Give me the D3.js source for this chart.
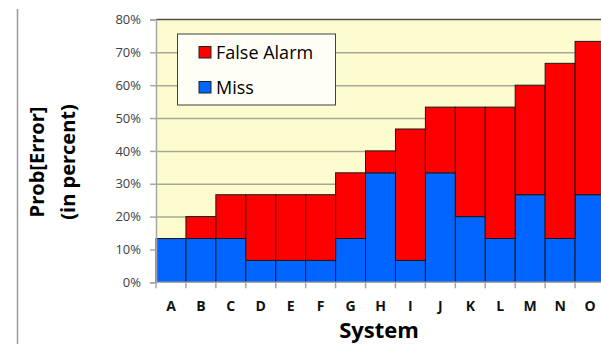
<!DOCTYPE html>
<html>
<head>
<meta charset="utf-8">
<script src="https://cdn.jsdelivr.net/npm/d3@7/dist/d3.min.js"></script>
<style>
  body { margin: 0; background: #fff; }
  svg { display: block; font-family: "Open Sans", "Noto Sans", sans-serif; }
</style>
</head>
<body>
<svg id="chart" width="601" height="344"></svg>
<script>
// systems on the x axis
var systems = ["A","B","C","D","E","F","G","H","I","J","K","L","M","N","O"];
// error rates, in percent (multiples of 1/15)
var missVals  = [13.33, 13.33, 13.33, 6.67, 6.67, 6.67, 13.33, 33.33, 6.67, 33.33, 20.0, 13.33, 26.67, 13.33, 26.67];
var faVals    = [0, 6.67, 13.33, 20.0, 20.0, 20.0, 20.0, 6.67, 40.0, 20.0, 33.33, 40.0, 33.33, 53.33, 46.67];
var yTicks    = [0, 10, 20, 30, 40, 50, 60, 70, 80];
var legendLabels = ["False Alarm", "Miss"];

var svg = d3.select("#chart");

var plot = {left: 156, right: 605, top: 19.5, bottom: 282.3};

var x = d3.scaleBand()
    .domain(systems)
    .range([plot.left, plot.right])
    .padding(0);

var y = d3.scaleLinear()
    .domain([0, 80])
    .range([plot.bottom, plot.top]);

var colors = {"False Alarm": "#ff0000", "Miss": "#0066ff"};

// stray slide line on the left
svg.append("line")
    .attr("x1", 17.5).attr("x2", 17.5)
    .attr("y1", 9).attr("y2", 344)
    .attr("stroke", "#9a9a9a")
    .attr("stroke-width", 1.5);

// plot background
svg.append("rect")
    .attr("x", plot.left).attr("y", plot.top)
    .attr("width", plot.right - plot.left)
    .attr("height", plot.bottom - plot.top)
    .attr("fill", "#fdfccf");

// gridlines
svg.append("g")
    .attr("transform", "translate(" + plot.left + ",0)")
    .call(d3.axisLeft(y).tickValues(yTicks.slice(1, -1)).tickSize(-(plot.right - plot.left)).tickFormat(""))
    .call(function(g){ g.select(".domain").remove(); })
    .selectAll("line")
      .attr("stroke", "#a8a898")
      .attr("stroke-width", 1.5);

// top border
svg.append("line")
    .attr("x1", plot.left).attr("x2", plot.right)
    .attr("y1", plot.top).attr("y2", plot.top)
    .attr("stroke", "#505050")
    .attr("stroke-width", 1.5);

// stacked data
var rows = systems.map(function(s, i){ return {sys: s, "Miss": missVals[i], "False Alarm": faVals[i]}; });
var stacked = d3.stack().keys(["Miss", "False Alarm"])(rows);

var layers = svg.append("g").selectAll("g")
    .data(stacked)
    .join("g")
      .attr("fill", function(d){ return colors[d.key]; });

layers.selectAll("rect")
    .data(function(d){ return d.filter(function(v){ return v[1] - v[0] > 0; }); })
    .join("rect")
      .attr("x", function(d){ return x(d.data.sys); })
      .attr("y", function(d){ return y(d[1]); })
      .attr("width", x.bandwidth())
      .attr("height", function(d){ return y(d[0]) - y(d[1]); })
      .attr("stroke", "#1a1a1a")
      .attr("stroke-width", 1);

// y axis
var yAxis = svg.append("g")
    .attr("transform", "translate(" + plot.left + ",0)")
    .call(d3.axisLeft(y).tickValues(yTicks).tickSize(6).tickPadding(9).tickFormat(function(d){ return d + "%"; }));
yAxis.select(".domain").attr("stroke", "#a6a6a6").attr("stroke-width", 1.5);
yAxis.selectAll(".tick line").attr("stroke", "#a6a6a6").attr("stroke-width", 1.5);
yAxis.selectAll(".tick text")
    .attr("fill", "#404040")
    .style("font-size", "13px")
    .style("font-family", "'Open Sans', sans-serif");

// x axis: ticks between categories
var xAxis = svg.append("g")
    .attr("transform", "translate(0," + plot.bottom + ")");
xAxis.append("line")
    .attr("x1", plot.left).attr("x2", plot.right)
    .attr("stroke", "#a6a6a6").attr("stroke-width", 1.5);
xAxis.selectAll(".sep")
    .data(systems)
    .join("line")
      .attr("class", "sep")
      .attr("x1", function(d){ return x(d); }).attr("x2", function(d){ return x(d); })
      .attr("y1", 0).attr("y2", 6)
      .attr("stroke", "#a6a6a6").attr("stroke-width", 1.5);
xAxis.selectAll(".lbl")
    .data(systems)
    .join("text")
      .attr("class", "lbl")
      .attr("x", function(d){ return x(d) + x.bandwidth() / 2; })
      .attr("y", 29)
      .attr("text-anchor", "middle")
      .style("font-size", "14px")
      .style("font-weight", "bold")
      .attr("fill", "#111")
      .text(function(d){ return d; });

// axis titles
svg.append("text")
    .attr("x", 379).attr("y", 338)
    .attr("text-anchor", "middle")
    .style("font-size", "22px")
    .style("font-weight", "bold")
    .attr("fill", "#000")
    .text("System");

var yTitle = svg.append("text")
    .attr("transform", "translate(44,162) rotate(-90)")
    .attr("text-anchor", "middle")
    .style("font-size", "20px")
    .style("font-weight", "bold")
    .attr("fill", "#000");
yTitle.append("tspan").attr("x", 0).attr("dy", 0).text("Prob[Error]");
yTitle.append("tspan").attr("x", 0).attr("dy", 31).text("(in percent)");

// legend
var legend = svg.append("g");
legend.append("rect")
    .attr("x", 177.5).attr("y", 34)
    .attr("width", 158).attr("height", 71)
    .attr("fill", "#fffef6")
    .attr("stroke", "#404040")
    .attr("stroke-width", 1);
var items = legend.selectAll(".item")
    .data(legendLabels)
    .join("g")
      .attr("class", "item")
      .attr("transform", function(d, i){ return "translate(199," + (46.5 + i * 35) + ")"; });
items.append("rect")
    .attr("width", 12).attr("height", 11.5)
    .attr("fill", function(d){ return colors[d]; })
    .attr("stroke", "#222")
    .attr("stroke-width", 1);
items.append("text")
    .attr("x", 17).attr("y", 12)
    .style("font-size", "18px")
    .attr("fill", "#000")
    .text(function(d){ return d; });
</script>
</body>
</html>
